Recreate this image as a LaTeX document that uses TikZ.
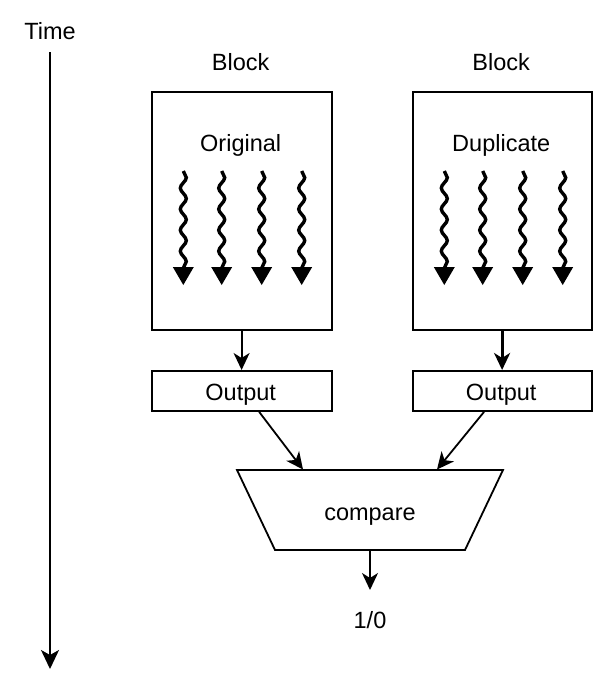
\documentclass[tikz,border=0pt]{standalone}
\usepackage{fontspec}
\setmainfont{Liberation Sans}
\usetikzlibrary{arrows.meta,decorations.pathmorphing,calc}
\begin{document}
\begin{tikzpicture}[x=1pt,y=-1pt,
  lbl/.style={font=\fontsize{23.5}{28}\selectfont, inner sep=0pt, anchor=base},
  box/.style={draw, line width=1.8pt, minimum width=180pt, anchor=north west, inner sep=0pt},
  arr/.style={line width=1.8pt, -{Stealth[length=17pt,width=16pt,inset=5pt]}},
  wave/.style={line width=3.4pt, decorate, decoration={snake, amplitude=3pt, segment length=21pt}},
]
\useasboundingbox (0,0) rectangle (592,688);

% time axis
\node[lbl] (time) at (50,39) {Time};
\coordinate (tstart) at (50,52);
\coordinate (tend) at (50,669);
\draw[arr, -{Stealth[length=19pt,width=18pt,inset=5pt]}] (tstart) -- (tend);

% blocks
\node[lbl] (blkL) at (240.7,70.5) {Block};
\node[lbl] (blkR) at (501.2,70.5) {Block};
\node[box, minimum height=238pt] (orig) at (150.7,91) {};
\node[box, minimum width=179pt, minimum height=238pt] (dup) at (411.7,91) {};
\node[lbl] (origt) at (240.7,151.7) {Original};
\node[lbl] (dupt) at (501.2,151.7) {Duplicate};

% wavy arrows
\foreach \dx in {32.6,71,111,151}{
  \foreach \bx in {150.7,411.7}{
    \draw[wave] (\bx+\dx,171) -- (\bx+\dx,269);
    \fill (\bx+\dx-10.5,267) -- (\bx+\dx+10.5,267) -- (\bx+\dx,285) -- cycle;
  }
}

% outputs
\node[box, minimum height=40pt] (outL) at (150.7,370) {};
\node[box, minimum width=179pt, minimum height=40pt] (outR) at (411.7,370) {};
\node[lbl] (outLt) at (240.7,400) {Output};
\node[lbl] (outRt) at (501.2,400) {Output};

\draw[arr] (orig.south) -- (outL.north);
\draw[arr, line width=2.8pt] (dup.south) -- (outR.north);

% compare
\coordinate (c1) at (237,470);
\coordinate (c2) at (503,470);
\coordinate (c3) at (465,550);
\coordinate (c4) at (275,550);
\draw[line width=1.8pt, line join=miter] (c1) -- (c2) -- (c3) -- (c4) -- cycle;
\node[lbl] (cmp) at (370,520) {compare};
\coordinate (cmpL) at (303,469.5);
\coordinate (cmpR) at (437,469.5);
\coordinate (cmpB) at (370,550);

\draw[arr] ($(outL.south)+(17.5,0)$) -- (cmpL);
\draw[arr] ($(outR.south)+(-18,0)$) -- (cmpR);

\coordinate (resA) at (370,590);
\draw[arr] (cmpB) -- (resA);
\node[lbl] (res) at (370,628) {1/0};
\end{tikzpicture}
\end{document}
